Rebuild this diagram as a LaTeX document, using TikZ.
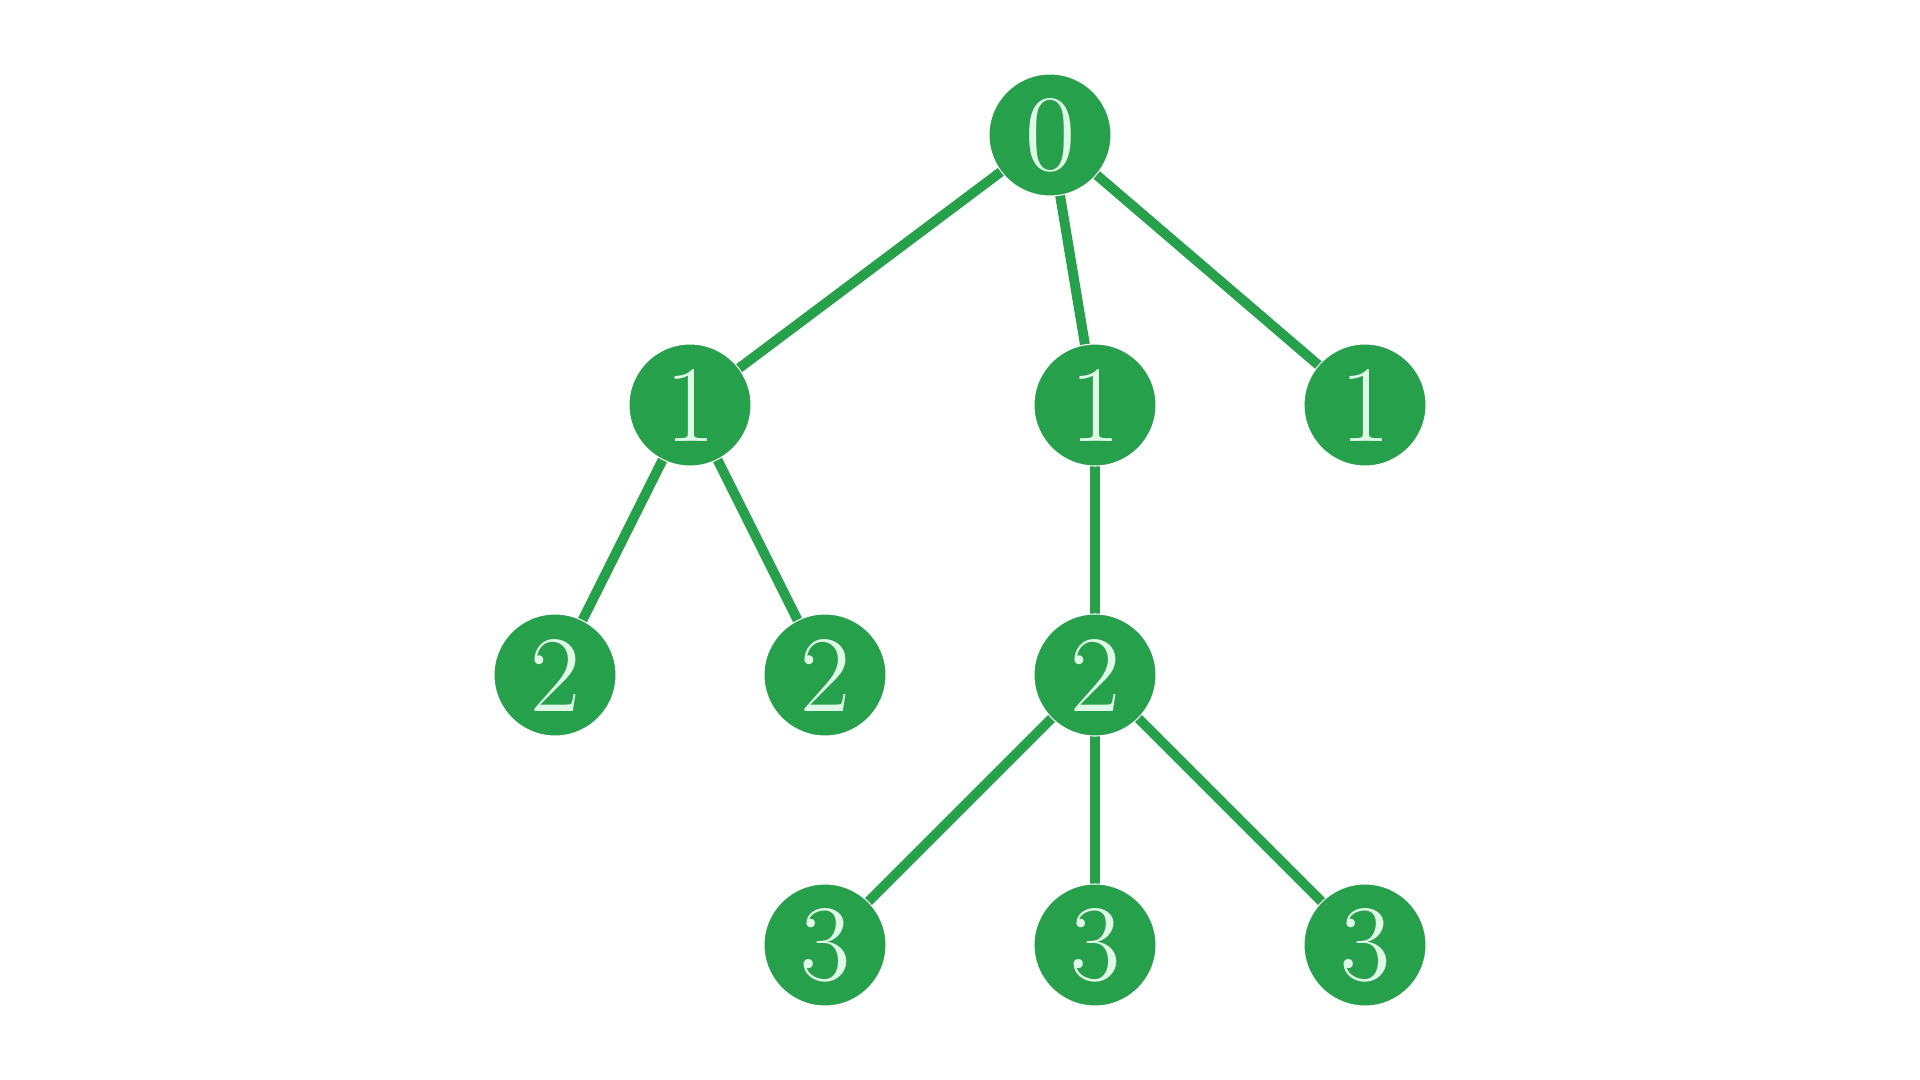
\documentclass[tikz,border=0pt]{standalone}
\usepackage{fontspec}
\usepackage{xcolor}
\usepackage{tikz}
\usetikzlibrary{calc,backgrounds}
\definecolor{leaf}{HTML}{27A04B}
\definecolor{mint}{HTML}{DEF9E6}
\tikzset{
  vert/.style={circle, fill=leaf, draw=white, line width=0.3pt, minimum size=1.22cm, inner sep=0pt,
    outer sep=0pt, text=mint, font=\fontsize{31}{31}\selectfont},
  edge/.style={draw=leaf, line width=2.8pt},
}
\begin{document}
\begin{tikzpicture}
  \useasboundingbox (0,0) rectangle (19.2,-10.8);
  \def\ya{-1.35}
  \def\yb{-4.05}
  \def\yc{-6.75}
  \def\yd{-9.45}

  \node[vert] (r) at (10.50,\ya) {0};
  \node[vert] (a) at (6.90,\yb) {1};
  \node[vert] (b) at (10.95,\yb) {1};
  \node[vert] (c) at (13.65,\yb) {1};
  \node[vert] (aa) at (5.55,\yc) {2};
  \node[vert] (ab) at (8.25,\yc) {2};
  \node[vert] (ba) at (10.95,\yc) {2};
  \node[vert] (baa) at (8.25,\yd) {3};
  \node[vert] (bab) at (10.95,\yd) {3};
  \node[vert] (bac) at (13.65,\yd) {3};

  \begin{scope}[on background layer]
    \draw[edge] (r.center) -- (a.center);
    \draw[edge] (r.center) -- (b.center);
    \draw[edge] (r.center) -- (c.center);
    \draw[edge] (a.center) -- (aa.center);
    \draw[edge] (a.center) -- (ab.center);
    \draw[edge] (b.center) -- (ba.center);
    \draw[edge] (ba.center) -- (baa.center);
    \draw[edge] (ba.center) -- (bab.center);
    \draw[edge] (ba.center) -- (bac.center);
  \end{scope}
\end{tikzpicture}
\end{document}
